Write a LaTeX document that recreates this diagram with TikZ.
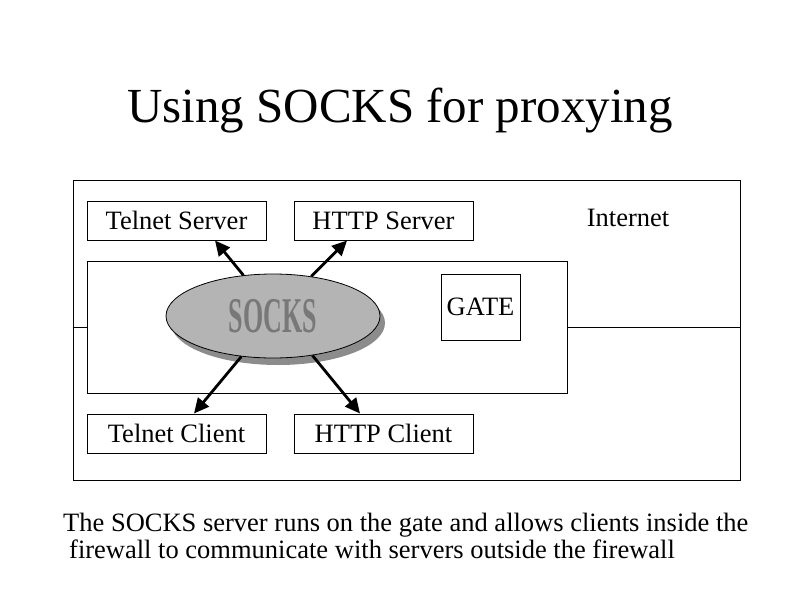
\documentclass[tikz,border=0pt]{standalone}
\usepackage{fontspec}
\setmainfont{Liberation Serif}
\usetikzlibrary{shapes.geometric,arrows.meta,shadows}
\tikzset{
  lbl/.style={font=\fontsize{26.5}{27}\selectfont},
  box/.style={lbl,draw,line width=1pt,minimum width=179pt,minimum height=39pt,inner sep=0pt},
  area/.style={draw,line width=1pt,inner sep=0pt},
  arr/.style={line width=2.8pt,-{Triangle[length=15pt,width=14pt]}}
}
\begin{document}
\begin{tikzpicture}[x=1pt,y=-1pt]
        \useasboundingbox (0,0) rectangle (800,600);
        \node[font=\fontsize{49}{50}\selectfont,anchor=base] (title) at (400,122) {Using SOCKS for proxying};
        \node[area,minimum width=667pt,minimum height=300pt] (net) at (406.5,330) {};
        \node[area,minimum width=480pt,minimum height=132pt] (fw) at (327,327) {};
        \node[lbl] (inet) at (628,218) {Internet};
        \node[box] (tserver) at (176.5,220.5) {Telnet Server};
        \node[box] (hserver) at (383.5,220.5) {HTTP Server};
        \node[box] (tclient) at (176.5,433.5) {Telnet Client};
        \node[box] (hclient) at (383.5,433.5) {HTTP Client};
        \node[box,minimum width=79pt,minimum height=66pt] (gate) at (480.5,307) {GATE};
        \node[ellipse,draw,line width=0.8pt,fill={rgb,255:red,180;green,180;blue,180},
              minimum width=214pt,minimum height=84pt,inner sep=0pt,
              drop shadow={shadow xshift=5pt,shadow yshift=-7pt,opacity=1,fill={rgb,255:red,140;green,140;blue,140}},
              font=\bfseries\fontsize{50}{50}\selectfont,text={rgb,255:red,120;green,120;blue,120}]
              (socks) at (273,316) {\scalebox{0.52}[1]{SOCKS}};
        \draw[line width=1pt] (fw.west -| net.west) -- (fw.west);
        \draw[line width=1pt] (fw.east) -- (fw.east -| net.east);
        \draw[arr] (socks.126) -- ([xshift=38.5pt]tserver.south);
        \draw[arr] (socks.46) -- ([xshift=-36.5pt]hserver.south);
        \draw[arr] (socks.-128) -- ([xshift=17.5pt]tclient.north);
        \draw[arr] (socks.-45) -- ([xshift=-23.5pt]hclient.north);
        \node[lbl,anchor=base west,inner sep=0pt] (note1) at (63,531) {The SOCKS server runs on the gate and allows clients inside the};
        \node[lbl,anchor=base west,inner sep=0pt] (note2) at (69,558) {firewall to communicate with servers outside the firewall};
      \end{tikzpicture}
\end{document}
